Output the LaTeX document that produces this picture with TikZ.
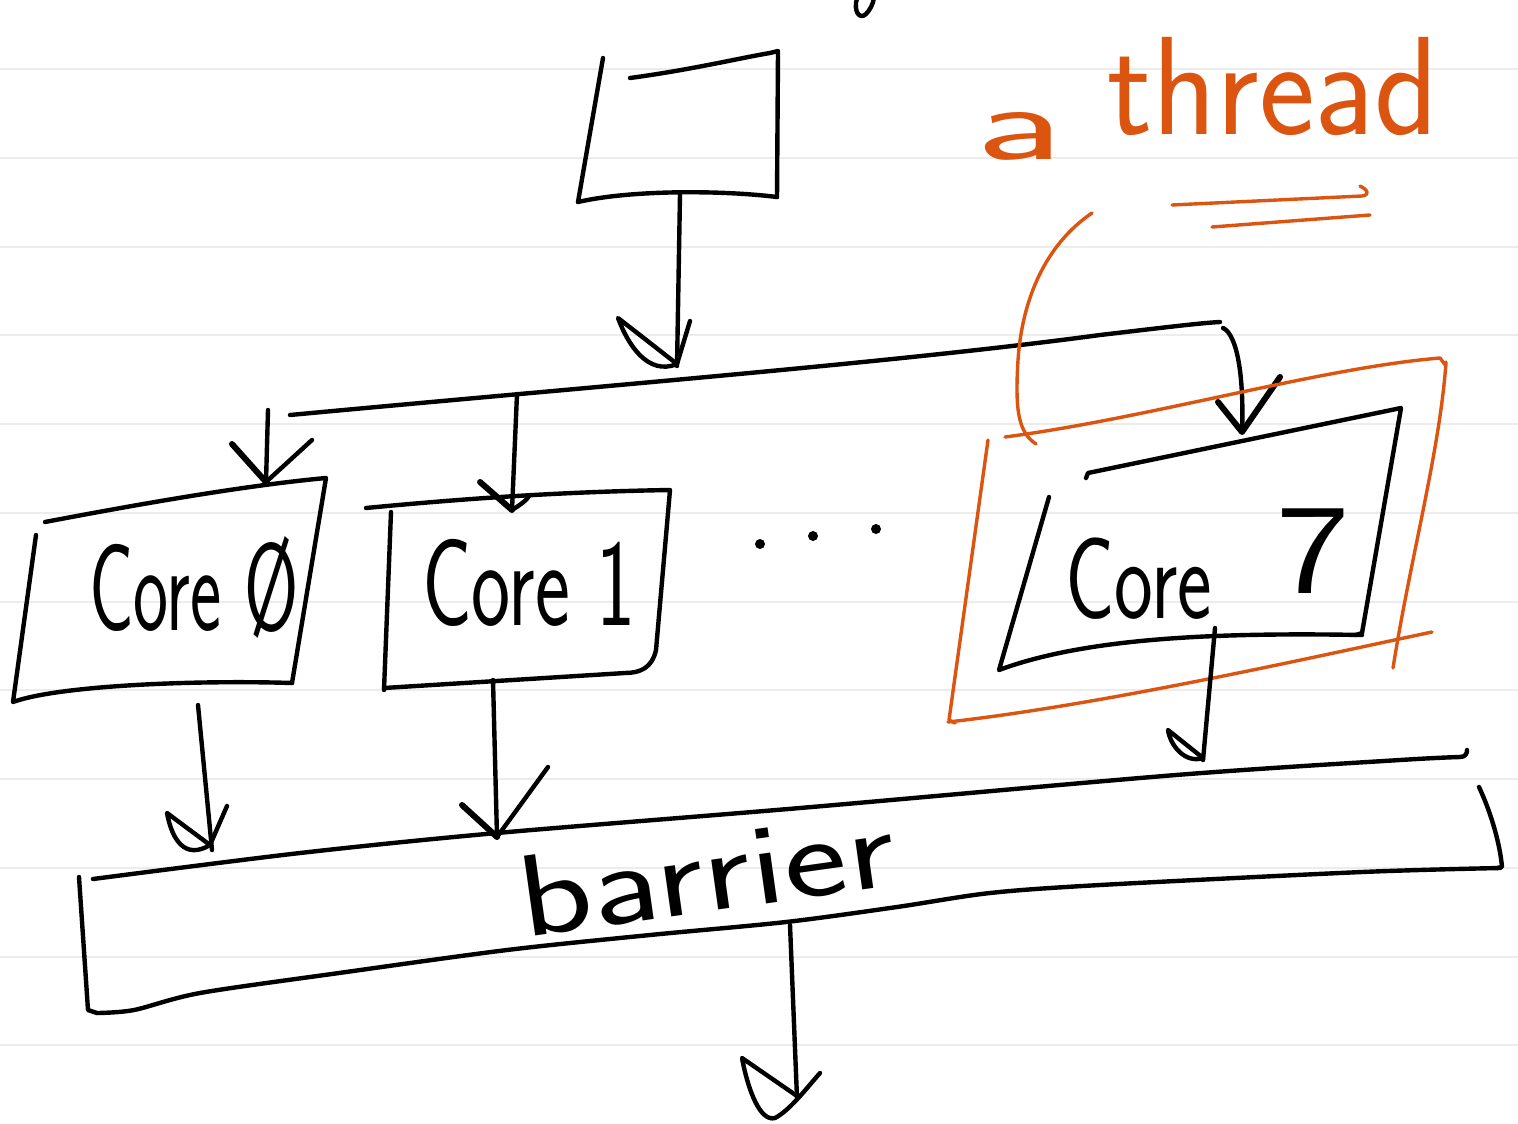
\documentclass[tikz,border=0pt]{standalone}
\usepackage{fontspec}
\usepackage{graphicx}
\definecolor{orangeink}{RGB}{219,84,16}
\definecolor{ruled}{RGB}{236,236,236}
\newcommand{\handw}[2]{\scalebox{#1}[1]{#2}}
\tikzset{
  pen/.style={draw=black, line width=2.2pt, line cap=round, line join=round},
  armpen/.style={draw=black, line width=3pt, line cap=round, line join=round},
  orpen/.style={draw=orangeink, line width=1.7pt, line cap=round, line join=round},
  ruleline/.style={draw=ruled, line width=1pt},
  hand/.style={inner sep=0pt, outer sep=0pt},
}
\begin{document}
\begin{tikzpicture}[x=0.5pt, y=-0.5pt]
\useasboundingbox (0,0) rectangle (1518,1123);
\fill[white] (0,0) rectangle (1518,1123);
\foreach \k in {0,...,11} \draw[ruleline] (0,{69+88.75*\k}) -- (1518,{69+88.75*\k});

% fragment at the top edge
\draw[pen] (857,-2) .. controls (853,12) and (860,20) .. (866,14) .. controls (870,10) and (873,4) .. (874,-2);

% ---------- top box ----------
\coordinate (tb-s) at (680,194);
\draw[pen] (603,58) -- (578,202);
\draw[pen] (630,78) .. controls (690,70) and (740,58) .. (770,53) -- (778,51) -- (777,197);
\draw[pen] (578,202) .. controls (630,190) and (720,190) .. (777,197);

% ---------- distribution line ----------
\coordinate (bus-l) at (290,415);
\coordinate (bus-r) at (1220,322);
\coordinate (bus-top) at (677,366);
\draw[pen] (bus-l) .. controls (600,386) and (900,362) .. (1100,335) .. controls (1160,328) and (1200,323) .. (bus-r);
\draw[pen] (tb-s) -- (bus-top);
\draw[pen] (677,364) -- (618,318) .. controls (628,345) and (648,376) .. (677,364) -- (690,321);

% ---------- Core 0 ----------
\coordinate (a0-top) at (268,410);
\coordinate (c0-in) at (266,482);
\coordinate (c0-out) at (198,705);
\draw[pen] (45,522) .. controls (150,502) and (250,485) .. (326,478) -- (292,683);
\draw[pen] (292,683) .. controls (200,680) and (60,685) .. (13,702) -- (36,535);
\draw[pen] (a0-top) -- (c0-in);
\draw[armpen] (232,444) -- (c0-in);
\draw[pen] (c0-in) -- (312,440);
\node[hand, anchor=base west, font=\sffamily\fontsize{62}{62}\selectfont] (core0) at (89,630) {\handw{0.6}{Core Ø}};

% ---------- Core 1 ----------
\coordinate (a1-top) at (517,394);
\coordinate (c1-in) at (512,510);
\coordinate (c1-out) at (493,680);
\draw[pen] (366,508) .. controls (450,500) and (550,492) .. (670,490) -- (656,650) .. controls (652,668) and (640,673) .. (625,673) -- (384,688);
\draw[pen] (391,512) -- (384,690);
\draw[pen] (a1-top) -- (c1-in);
\draw[armpen] (480,482) -- (c1-in);
\draw[pen] (c1-in) .. controls (520,505) and (527,500) .. (529,496);
\node[hand, anchor=base west, font=\sffamily\fontsize{62}{62}\selectfont] (core1) at (422,625) {\handw{0.67}{Core 1}};

% dots
\foreach \p/\q in {760/544, 813/536, 876/529} \fill (\p,\q) circle (5);

% ---------- Core 7 ----------
\coordinate (c7-in) at (1242,432);
\coordinate (c7-out) at (1215,628);
\draw[pen] (1223,328) .. controls (1238,335) and (1244,380) .. (c7-in);
\draw[armpen] (1218,402) -- (c7-in) -- (1280,377);
\draw[pen] (1086,478) -- (1088,473) -- (1401,408) -- (1362,633) -- (1356,635);
\draw[pen] (1362,635) .. controls (1200,632) and (1080,640) .. (999,670) -- (1049,497);
\node[hand, anchor=base west, font=\sffamily\fontsize{58}{58}\selectfont] (core7) at (1065,618) {\handw{0.71}{Core}\hspace{14pt} \raisebox{13pt}{\scalebox{1.35}[1.1]{7}}};

% ---------- orange thread frame ----------
\draw[orpen] (1092,213) .. controls (1045,245) and (1022,300) .. (1018,360) .. controls (1015,410) and (1018,432) .. (1036,444);
\draw[orpen] (1005,437) .. controls (1150,418) and (1320,368) .. (1440,358) -- (1446,366);
\draw[orpen] (1446,362) .. controls (1440,450) and (1410,560) .. (1393,668);
\draw[orpen] (988,440) -- (949,720) -- (955,723);
\draw[orpen] (948,722) .. controls (1100,705) and (1300,660) .. (1432,632);
\draw[orpen] (1172,205) -- (1362,196) .. controls (1370,195) and (1368,190) .. (1360,186);
\draw[orpen] (1212,227) -- (1370,215);
\node[hand, anchor=base west, text=orangeink, font=\sffamily\fontsize{70}{70}\selectfont] (thread) at (975,160) {\scalebox{1.4}[0.76]{a} \raisebox{12.5pt}{\handw{0.95}{thread}}};

% ---------- barrier ----------
\coordinate (b-in0) at (212,850);
\coordinate (b-in1) at (497,837);
\coordinate (b-in7) at (1203,760);
\coordinate (b-out) at (790,925);
\coordinate (out) at (797,1098);
\draw[pen] plot[smooth] coordinates {(93,879) (300,853) (497,833) (800,808) (1176,775) (1400,760) (1460,757)};
\draw[pen] (1460,757) .. controls (1465,757) and (1467,754) .. (1467,750);
\draw[pen] (1479,787) .. controls (1492,815) and (1500,845) .. (1502,867) -- (1497,868);
\draw[pen] plot[smooth] coordinates {(1500,868) (1362,872) (1100,885) (990,893) (897,907) (786,922) (650,935) (507,950) (339,973) (200,993) (134,1010) (97,1013)};
\draw[pen] (79,877) -- (88,1010) -- (97,1013);
\node[hand, rotate=8, font=\sffamily\fontsize{58}{58}\selectfont] (barrier) at (706,872) {\handw{1.3}{barrier}};

% arrows into and out of the barrier
\draw[pen] (c0-out) -- (b-in0);
\draw[pen] (210,845) -- (167,813) .. controls (172,840) and (185,860) .. (210,845) -- (227,806);
\draw[pen] (c1-out) -- (b-in1);
\draw[armpen] (462,805) -- (b-in1);
\draw[pen] (b-in1) -- (548,767);
\draw[pen] (c7-out) -- (b-in7);
\draw[pen] (1203,758) -- (1168,730) .. controls (1170,745) and (1185,764) .. (1203,758);
\draw[pen] (b-out) -- (out);
\draw[pen] (797,1096) -- (742,1058) .. controls (748,1090) and (760,1122) .. (775,1118) .. controls (790,1110) and (805,1090) .. (820,1073);
\end{tikzpicture}
\end{document}
